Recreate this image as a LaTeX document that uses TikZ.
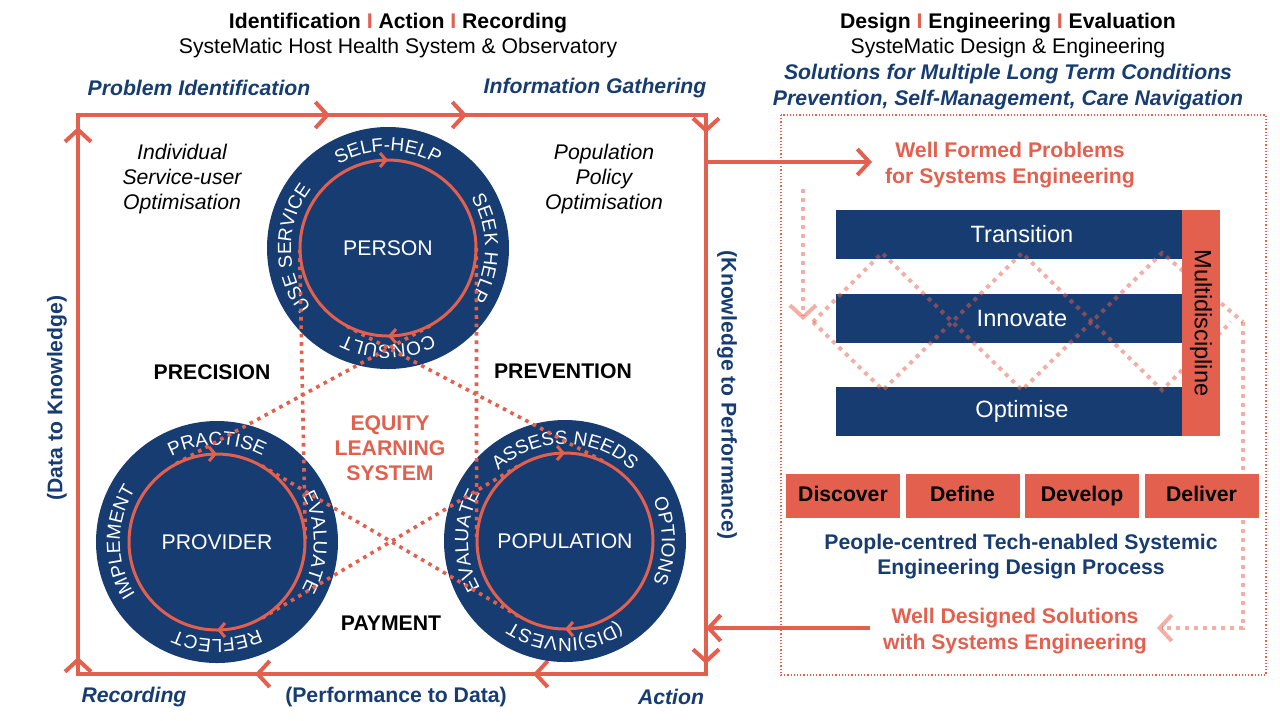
\documentclass[tikz,border=0pt]{standalone}
\usepackage{fontspec}
\setmainfont{Liberation Sans}
\usepackage{tikz}
\usetikzlibrary{arrows.meta, calc, decorations.markings, decorations.text}
\definecolor{navy}{HTML}{173C71}
\definecolor{accent}{HTML}{E3604E}
\newcommand\basefont{\fontsize{10.6}{12.6}\selectfont}
\newcommand\ringfont{\fontsize{9.5}{11}\selectfont}
\newcommand\barfont{\fontsize{11.8}{14}\selectfont}
\newcommand\ringlabel[3]{%
  \path[decorate, decoration={text along path, text align=center,
      text={|\ringfont\color{white}|#3}}]
    ($(#1)+(#2-90:97)$) arc[start angle=#2-90, end angle=#2+90, radius=97];}
\tikzset{
  lbl/.style={font=\basefont, align=center, inner sep=0pt},
  bluelbl/.style={lbl, text=navy, font=\basefont\bfseries\itshape},
  disc/.style={circle, fill=navy, minimum size=121pt, inner sep=0pt, text=white, font=\basefont},
  inring/.style={circle, minimum size=88pt, inner sep=0pt},
  ringline/.style={draw=accent, line width=1.5pt},
  dots/.style={draw=accent, line width=1.8pt, dash pattern=on 1.8pt off 2.4pt},
  zig/.style={draw=accent, draw opacity=0.5, line width=2pt, dash pattern=on 2pt off 2.5pt},
  frameline/.style={draw=accent, line width=2pt},
  arr/.style={-{Straight Barb[length=6pt,width=13pt]}},
  bar/.style={fill=navy, text=white, font=\barfont, minimum width=186pt, minimum height=24.5pt, inner sep=0pt},
  phase/.style={fill=accent, font=\basefont\bfseries, minimum width=57pt, minimum height=22pt,
    inner sep=0pt, text height=0.72em, text depth=0.21em}
}
\begin{document}
\begin{tikzpicture}[x=0.5pt, y=-0.5pt]
    \useasboundingbox (0,0) rectangle (1280,720);

    % titles
    \node[lbl, font=\basefont\bfseries] (ltitle) at (398,23) {Identification \textcolor{accent}{I} Action \textcolor{accent}{I} Recording};
    \node[lbl] (lsub) at (398,48) {SysteMatic Host Health System \& Observatory};
    \node[lbl, font=\basefont\bfseries] (rtitle) at (1008,23) {Design \textcolor{accent}{I} Engineering \textcolor{accent}{I} Evaluation};
    \node[lbl] (rsub) at (1008,48) {SysteMatic Design \& Engineering};
    \node[bluelbl] (rsol) at (1008,87) {Solutions for Multiple Long Term Conditions\\Prevention, Self-Management, Care Navigation};

    % frame
    \draw[frameline, postaction={decorate}, decoration={markings,
        mark=at position 8.5pt with {\arrow{Straight Barb[length=6pt,width=13pt]}},
        mark=at position 273.5pt with {\arrow{Straight Barb[length=6pt,width=13pt]}},
        mark=at position 405.5pt with {\arrow{Straight Barb[length=6pt,width=13pt]}},
        mark=at position 474pt with {\arrow{Straight Barb[length=6pt,width=13pt]}},
        mark=at position 602.5pt with {\arrow{Straight Barb[length=6pt,width=13pt]}},
        mark=at position 868pt with {\arrow{Straight Barb[length=6pt,width=13pt]}},
        mark=at position 959.5pt with {\arrow{Straight Barb[length=6pt,width=13pt]}},
        mark=at position 1098.5pt with {\arrow{Straight Barb[length=6pt,width=13pt]}}}]
      (78,674) -- (78,115) -- (706,115) -- (706,674) -- cycle;
    \node[bluelbl] (probid) at (199,88) {Problem Identification};
    \node[bluelbl] (infog) at (595,88) {Information Gathering};
    \node[bluelbl] (rec) at (134,697) {Recording};
    \node[bluelbl, font=\basefont\bfseries] (perf) at (396,697) {(Performance to Data)};
    \node[bluelbl] (act) at (671,697) {Action};
    \node[bluelbl, font=\basefont\bfseries, rotate=90] (d2k) at (57,398) {(Data to Knowledge)};
    \node[bluelbl, font=\basefont\bfseries, rotate=-90] (k2p) at (727,395) {(Knowledge to Performance)};

    \node[lbl, font=\basefont\itshape] (indiv) at (182,179) {Individual\\Service-user\\Optimisation};
    \node[lbl, font=\basefont\itshape] (popol) at (604,179) {Population\\Policy\\Optimisation};
    \node[lbl, font=\basefont\bfseries] (prec) at (212,372) {PRECISION};
    \node[lbl, font=\basefont\bfseries] (prev) at (563,371) {PREVENTION};
    \node[lbl, font=\basefont\bfseries] (pay) at (391,623) {PAYMENT};
    \node[lbl, font=\basefont\bfseries, text=accent] (els) at (390,448) {EQUITY\\LEARNING\\SYSTEM};

    % the three circles
    \node[disc] (person) at (388,248) {PERSON};
    \node[disc] (provider) at (217,542) {PROVIDER};
    \node[disc] (population) at (565,541) {POPULATION};
    \foreach \c in {person, provider, population} {
      \node[inring] (\c-in) at (\c) {};
      \draw[ringline, postaction={decorate}, decoration={markings,
          mark=at position 0.25 with {\arrow{Straight Barb[length=3pt,width=7pt]}},
          mark=at position 0.75 with {\arrow{Straight Barb[length=3pt,width=7pt]}}}]
        (\c) ++(88,0) arc[start angle=0, end angle=360, radius=88];
    }
    \ringlabel{person}{-90}{SELF-HELP}
    \ringlabel{person}{0}{SEEK HELP}
    \ringlabel{person}{90}{CONSULT}
    \ringlabel{person}{180}{USE SERVICE}
    \ringlabel{provider}{-90}{PRACTISE}
    \ringlabel{provider}{0}{EVALUATE}
    \ringlabel{provider}{90}{REFLECT}
    \ringlabel{provider}{180}{IMPLEMENT}
    \ringlabel{population}{-90}{ASSESS NEEDS}
    \ringlabel{population}{0}{OPTIONS}
    \ringlabel{population}{90}{(DIS)INVEST}
    \ringlabel{population}{180}{EVALUATE}

    % dotted crossings between circles
    \foreach \a/\b in {person/provider, person/population, provider/population} {
      \coordinate (m) at ($(\a)!0.5!(\b)$);
      \foreach \s in {1,2} {
        \coordinate (t) at (tangent cs:node=\a-in, point={(m)}, solution=\s);
        \draw[dots] (t) -- ($(t)!2!(m)$);
      }
    }

    % design panel
    \draw[accent, line width=0.6pt, dash pattern=on 0.6pt off 1pt] (781,115) rectangle (1266,675);
    \node[lbl, font=\basefont\bfseries, text=accent] (wfp) at (1010,165) {Well Formed Problems\\for Systems Engineering};
    \coordinate (fout) at (706,162);
    \coordinate (wfptip) at (872,162);
    \draw[frameline, arr] (fout) -- (wfptip);

    \node[bar] (trans) at (1022,234.5) {Transition};
    \node[bar] (innov) at (1022,318.5) {Innovate};
    \node[bar] (optim) at (1022,411) {Optimise};

    % zigzag
    \draw[zig, arr] (803,189) -- (803,320);
    \draw[zig] (813,322) -- (882,253) -- (1022,390) -- (1162,253) -- (1243,322);
    \draw[zig] (813,322) -- (883,390) -- (1022,253) -- (1162,390) -- (1231,322);
    \draw[zig, arr] (1243,322) -- (1243,628) -- (1157,628);

    \node[fill=accent, font=\barfont, rotate=-90, minimum width=113pt, minimum height=19pt, inner sep=0pt] (multi) at (1201,323) {Multidiscipline};

    \foreach \t [count=\i] in {Discover, Define, Develop, Deliver}
      \node[phase] (ph\i) at (843+119.5*\i-119.5,496) {\t};

    \node[lbl, font=\basefont\bfseries, text=navy] (pctd) at (1021,556.5) {People-centred Tech-enabled Systemic\\Engineering Design Process};
    \node[lbl, font=\basefont\bfseries, text=accent] (wds) at (1015,631) {Well Designed Solutions\\with Systems Engineering};
    \coordinate (wdsstart) at (870,628);
    \coordinate (fin) at (706,628);
    \draw[frameline, arr] (wdsstart) -- (fin);
\end{tikzpicture}
\end{document}
